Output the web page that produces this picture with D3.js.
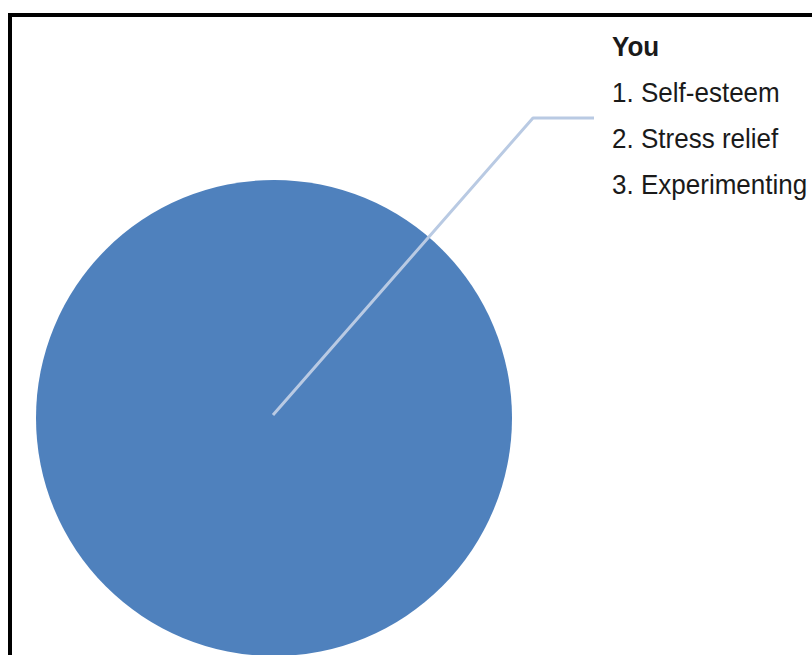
<!DOCTYPE html>
<html>
<head>
<meta charset="utf-8">
<script src="https://cdn.jsdelivr.net/npm/d3@7/dist/d3.min.js"></script>
<style>
html,body{margin:0;padding:0;background:#fff;overflow:hidden;}
svg{display:block;}
</style>
</head>
<body>
<svg id="chart" width="812" height="655"></svg>
<script>
const categories = ["You"];
const values = [100];
const labelTitle = "You";
const labelItems = ["1. Self-esteem", "2. Stress relief", "3. Experimenting"];

const svg = d3.select("#chart");
const W = 812, H = 655;

// frame (extends beyond the visible area on right/bottom)
svg.append("rect")
  .attr("x", 10).attr("y", 15)
  .attr("width", 900).attr("height", 900)
  .attr("fill", "#fff")
  .attr("stroke", "#000")
  .attr("stroke-width", 4);

const cx = 274, cy = 418, R = 238;
const pie = d3.pie().sort(null).value(d => d)(values);
const arc = d3.arc().innerRadius(0).outerRadius(R);
const color = d3.scaleOrdinal().domain(categories).range(["#4f81bd"]);

const g = svg.append("g").attr("transform", `translate(${cx},${cy})`);
g.selectAll("path").data(pie).enter().append("path")
  .attr("d", arc)
  .attr("fill", (d, i) => color(categories[i]));

// leader line
const start = [cx - 1, cy - 3];
const elbow = [533, 118];
const end = [594, 118];
svg.append("path")
  .attr("d", d3.line()([start, elbow, end]))
  .attr("fill", "none")
  .attr("stroke", "#b9cae3")
  .attr("stroke-width", 3)
  .attr("stroke-linejoin", "round");

// label
const lg = svg.append("g").attr("transform", "translate(612,0) scale(0.93,1)");
const fontFam = "'Liberation Sans', Arial, sans-serif";
lg.append("text")
  .attr("x", 0).attr("y", 56)
  .attr("font-family", fontFam)
  .attr("font-size", 28)
  .attr("font-weight", "bold")
  .attr("fill", "#1a1a1a")
  .text(labelTitle);
lg.selectAll("text.item").data(labelItems).enter().append("text")
  .attr("class", "item")
  .attr("x", 0)
  .attr("y", (d, i) => 102 + i * 46)
  .attr("font-family", fontFam)
  .attr("font-size", 28)
  .attr("fill", "#1a1a1a")
  .text(d => d);
</script>
</body>
</html>
